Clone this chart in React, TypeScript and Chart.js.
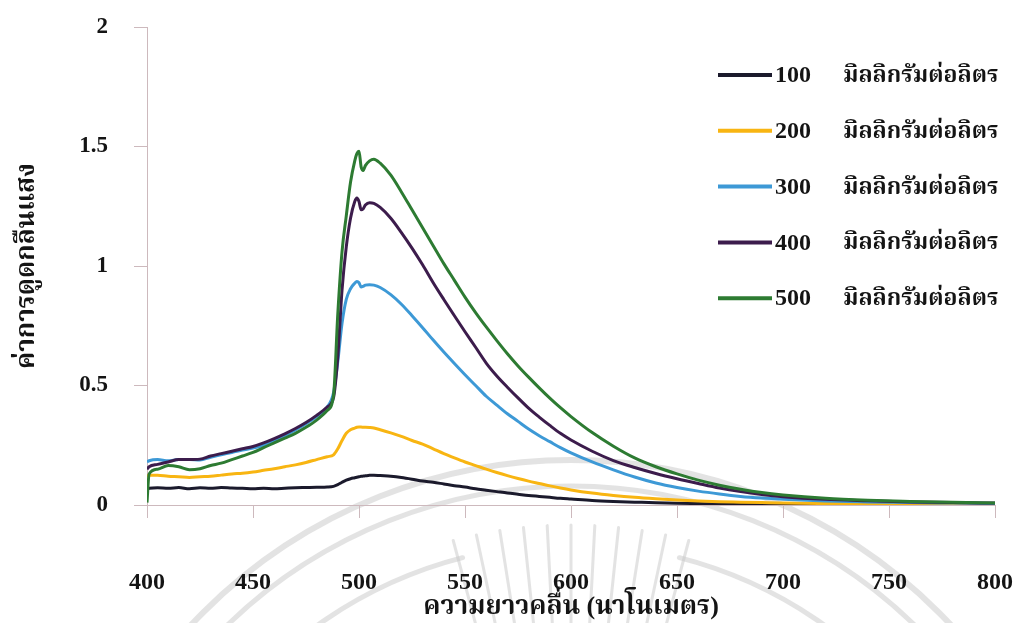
import { useEffect, useRef } from 'react';
import { Chart, registerables } from 'chart.js';

Chart.register(...registerables);

// Wavelength samples (nm) shared by every absorbance series
const wavelengths = [
  400, 401, 405, 410, 415, 420, 425, 430, 435, 440,
  445, 450, 455, 460, 465, 470, 475, 480, 485, 488,
  490, 492, 494, 496, 498, 499, 500, 501, 502, 503,
  505, 507, 510, 515, 520, 525, 530, 535, 540, 545,
  550, 555, 560, 565, 570, 575, 580, 585, 590, 595,
  600, 610, 620, 630, 640, 650, 660, 670, 680, 690,
  700, 720, 740, 760, 780, 800,
];

const absorbance100 = [
  0.065, 0.07, 0.072, 0.07, 0.073, 0.068, 0.072, 0.07, 0.073, 0.071,
  0.07, 0.068, 0.07, 0.068, 0.07, 0.072, 0.073, 0.074, 0.075, 0.078,
  0.085, 0.095, 0.104, 0.11, 0.114, 0.116, 0.118, 0.12, 0.121, 0.122,
  0.124, 0.125, 0.123, 0.12, 0.115, 0.108, 0.1, 0.095, 0.088, 0.081,
  0.075, 0.068, 0.062, 0.056, 0.05, 0.045, 0.04, 0.036, 0.032, 0.028,
  0.025, 0.019, 0.015, 0.012, 0.009, 0.007, 0.006, 0.005, 0.005, 0.004,
  0.004, 0.003, 0.003, 0.003, 0.002, 0.002,
];

const absorbance200 = [
  0.12, 0.125, 0.125, 0.12, 0.118, 0.115, 0.118, 0.12, 0.125, 0.13,
  0.133, 0.138, 0.145, 0.152, 0.16, 0.168, 0.178, 0.19, 0.202, 0.21,
  0.235, 0.27, 0.3, 0.315, 0.322, 0.325, 0.326, 0.326, 0.325, 0.325,
  0.324, 0.322, 0.315, 0.302, 0.287, 0.27, 0.255, 0.235, 0.215, 0.197,
  0.18, 0.165, 0.15, 0.136, 0.123, 0.111, 0.1, 0.09, 0.08, 0.071,
  0.063, 0.05, 0.04, 0.032, 0.026, 0.021, 0.017, 0.014, 0.012, 0.01,
  0.008, 0.006, 0.005, 0.004, 0.003, 0.003,
];

const absorbance300 = [
  0.18, 0.185, 0.19, 0.185, 0.19, 0.19, 0.188, 0.2, 0.21, 0.22,
  0.23, 0.238, 0.25, 0.268, 0.29, 0.314, 0.34, 0.37, 0.41, 0.47,
  0.6, 0.76, 0.86, 0.905, 0.928, 0.935, 0.93, 0.912, 0.915, 0.92,
  0.922, 0.92, 0.91, 0.88, 0.84, 0.792, 0.742, 0.69, 0.64, 0.592,
  0.545, 0.5, 0.455, 0.418, 0.382, 0.35, 0.318, 0.29, 0.265, 0.24,
  0.218, 0.18, 0.147, 0.117, 0.092, 0.073, 0.058, 0.046, 0.036, 0.029,
  0.024, 0.017, 0.013, 0.01, 0.008, 0.006,
];

const absorbance400 = [
  0.15, 0.16, 0.17, 0.18, 0.19, 0.19, 0.192, 0.205, 0.215, 0.225,
  0.235, 0.245, 0.26, 0.278, 0.298, 0.32, 0.345, 0.375, 0.41, 0.45,
  0.62, 0.9, 1.08, 1.2, 1.27, 1.285, 1.27, 1.235, 1.24, 1.255,
  1.265, 1.262, 1.245, 1.2, 1.14, 1.075, 1.005, 0.93, 0.86, 0.792,
  0.725, 0.66, 0.594, 0.54, 0.493, 0.448, 0.405, 0.368, 0.333, 0.3,
  0.272, 0.225, 0.186, 0.157, 0.132, 0.11, 0.09, 0.071, 0.056, 0.044,
  0.035, 0.024, 0.018, 0.013, 0.01, 0.008,
];

const absorbance500 = [
  0.01, 0.13, 0.15, 0.165, 0.16, 0.148, 0.152, 0.165, 0.175, 0.19,
  0.205, 0.22, 0.24, 0.26, 0.28, 0.3, 0.325, 0.355, 0.395, 0.46,
  0.8, 1.06, 1.21, 1.35, 1.44, 1.47, 1.48, 1.415, 1.4, 1.42,
  1.44, 1.447, 1.43, 1.38, 1.31, 1.235, 1.16, 1.085, 1.01, 0.94,
  0.87, 0.805, 0.745, 0.688, 0.633, 0.582, 0.535, 0.49, 0.447, 0.407,
  0.37, 0.303, 0.246, 0.197, 0.16, 0.13, 0.104, 0.083, 0.066, 0.052,
  0.042, 0.028, 0.02, 0.015, 0.011, 0.008,
];

const concentrations = ['100', '200', '300', '400', '500'];
const unitLabel = 'มิลลิกรัมต่อลิตร';
const seriesValues = [absorbance100, absorbance200, absorbance300, absorbance400, absorbance500];
const seriesColors = ['#1b1a2c', '#f8b512', '#3d99d6', '#3c1c4c', '#2d7b32'];

const xTickValues = [400, 450, 500, 550, 600, 650, 700, 750, 800];
const yTickValues = [0, 0.5, 1, 1.5, 2];
const xTitle = 'ความยาวคลื่น (นาโนเมตร)';
const yTitle = 'ค่าการดูดกลืนแสง';

const SERIF = '"Liberation Serif", "Times New Roman", "Noto Serif Thai", "Noto Sans Thai", serif';
const AXIS_COLOR = '#cdb9bd';
const TEXT_COLOR = '#141414';

// Faint circular seal printed behind the plot
const sealPlugin = {
  id: 'seal',
  beforeDraw(chart: any) {
    const { ctx, chartArea, width, height } = chart;
    ctx.save();
    ctx.fillStyle = '#ffffff';
    ctx.fillRect(0, 0, width, height);
    const cx = (chartArea.left + chartArea.right) / 2;
    const cy = height + 357;
    ctx.strokeStyle = 'rgba(200,200,200,0.5)';
    ctx.lineCap = 'round';
    ctx.lineWidth = 6;
    ctx.beginPath();
    ctx.arc(cx, cy, 520, Math.PI, 2 * Math.PI);
    ctx.stroke();
    ctx.lineWidth = 5;
    ctx.beginPath();
    ctx.arc(cx, cy, 494, Math.PI, 2 * Math.PI);
    ctx.stroke();
    ctx.lineWidth = 5;
    ctx.beginPath();
    ctx.arc(cx, cy, 436, Math.PI * 1.2, Math.PI * 1.42);
    ctx.stroke();
    ctx.beginPath();
    ctx.arc(cx, cy, 436, Math.PI * 1.58, Math.PI * 1.8);
    ctx.stroke();
    // rays of the inner emblem
    ctx.lineWidth = 3;
    for (let k = -5; k <= 5; k++) {
      const a = -Math.PI / 2 + (k * 3 * Math.PI) / 180;
      ctx.beginPath();
      ctx.moveTo(cx + Math.cos(a) * 350, cy + Math.sin(a) * 350);
      ctx.lineTo(cx + Math.cos(a) * 455, cy + Math.sin(a) * 455);
      ctx.stroke();
    }
    ctx.restore();
  },
};

// Legend drawn inside the plot on the right
const legendPlugin = {
  id: 'sideLegend',
  afterDraw(chart: any) {
    const { ctx } = chart;
    ctx.save();
    ctx.textBaseline = 'middle';
    ctx.textAlign = 'left';
    chart.data.datasets.forEach((ds: any, i: number) => {
      const y = 75 + i * 55.8;
      ctx.strokeStyle = ds.borderColor;
      ctx.lineWidth = 4;
      ctx.beginPath();
      ctx.moveTo(718, y);
      ctx.lineTo(772, y);
      ctx.stroke();
      ctx.fillStyle = TEXT_COLOR;
      ctx.font = `bold 24px ${SERIF}`;
      ctx.fillText(concentrations[i], 775, y + 1);
      ctx.font = `bold 23px ${SERIF}`;
      ctx.fillText(unitLabel, 843, y + 1);
    });
    ctx.restore();
  },
};

export default function App() {
  const canvasRef = useRef<HTMLCanvasElement | null>(null);

  useEffect(() => {
    const canvas = canvasRef.current;
    if (!canvas) return;
    const chart = new Chart(canvas, {
      type: 'line',
      data: {
        datasets: seriesValues.map((values, i) => ({
          label: `${concentrations[i]} ${unitLabel}`,
          data: wavelengths.map((w, j) => ({ x: w, y: values[j] })),
          borderColor: seriesColors[i],
          backgroundColor: seriesColors[i],
          borderWidth: 3,
          pointRadius: 0,
          cubicInterpolationMode: 'monotone',
          fill: false,
          order: seriesValues.length - 1 - i,
        })),
      },
      options: {
        responsive: false,
        animation: false,
        layout: { padding: { top: 27, right: 19, left: 0, bottom: 0 } },
        plugins: {
          legend: { display: false },
          tooltip: { enabled: false },
        },
        scales: {
          x: {
            type: 'linear',
            min: 400,
            max: 800,
            afterFit: (scale: any) => {
              scale.height = 118;
              scale.paddingLeft = 0;
              scale.paddingRight = 0;
            },
            afterBuildTicks: (scale: any) => {
              scale.ticks = xTickValues.map((v) => ({ value: v }));
            },
            grid: {
              drawOnChartArea: false,
              drawTicks: true,
              tickLength: 13,
              color: AXIS_COLOR,
              lineWidth: 1,
            },
            border: { display: true, color: AXIS_COLOR, width: 1 },
            ticks: {
              padding: 50,
              autoSkip: false,
              maxRotation: 0,
              color: TEXT_COLOR,
              font: { family: SERIF, size: 24, weight: 'bold' },
            },
            title: {
              display: true,
              text: xTitle,
              color: TEXT_COLOR,
              font: { family: SERIF, size: 26, weight: 'bold' },
              padding: { top: 0, bottom: 0 },
            },
          },
          y: {
            min: 0,
            max: 2,
            afterFit: (scale: any) => {
              scale.width = 147;
              scale.paddingTop = 0;
              scale.paddingBottom = 0;
            },
            afterBuildTicks: (scale: any) => {
              scale.ticks = yTickValues.map((v) => ({ value: v }));
            },
            grid: {
              drawOnChartArea: false,
              drawTicks: true,
              tickLength: 13,
              color: AXIS_COLOR,
              lineWidth: 1,
            },
            border: { display: true, color: AXIS_COLOR, width: 1 },
            ticks: {
              padding: 26,
              color: TEXT_COLOR,
              font: { family: SERIF, size: 23, weight: 'bold' },
              callback: (v: any) => String(v),
            },
            title: {
              display: true,
              text: yTitle,
              color: TEXT_COLOR,
              font: { family: SERIF, size: 26, weight: 'bold' },
              padding: { top: 12, bottom: 0 },
            },
          },
        },
      },
      plugins: [sealPlugin, legendPlugin],
    } as any);
    return () => chart.destroy();
  }, []);

  return (
    <div style={{ position: 'absolute', left: 0, top: 0, width: 1014, height: 623, background: '#fff' }}>
      <canvas ref={canvasRef} width={1014} height={623} style={{ display: 'block' }} />
    </div>
  );
}
